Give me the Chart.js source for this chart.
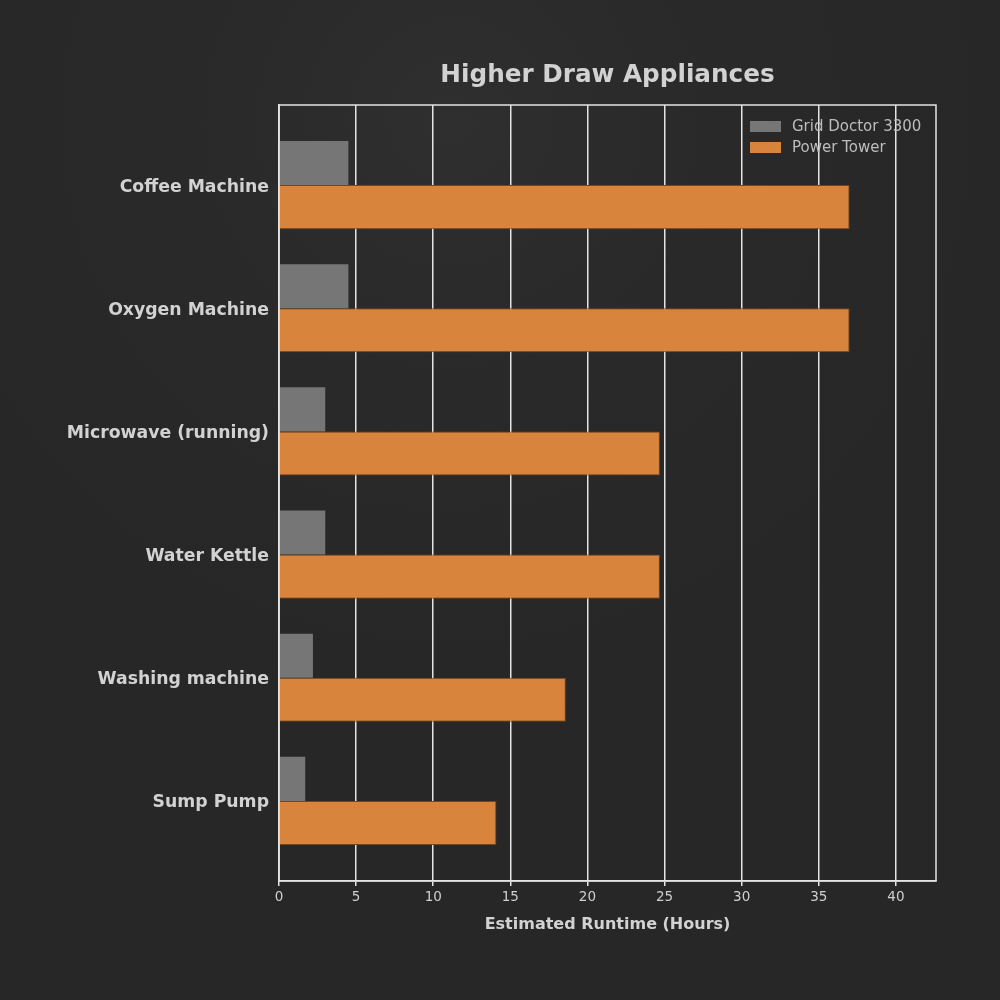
<!DOCTYPE html>
<html>
<head>
<meta charset="utf-8">
<script src="https://cdn.jsdelivr.net/npm/chart.js@4/dist/chart.umd.min.js"></script>
<style>
    html, body { margin: 0; padding: 0; background: #282828; }
    #GraficoAparelhos { display: block; }
</style>
</head>
<body>
<canvas id="GraficoAparelhos" width="1000" height="1000" style="width: 1000px; height: 1000px;"></canvas>
<script>
var categorias = ['Coffee Machine', 'Oxygen Machine', 'Microwave (running)', 'Water Kettle', 'Washing machine', 'Sump Pump'];
var gridDoctor = [4.5, 4.5, 3.0, 3.0, 2.2, 1.7];
var powerTower = [37.0, 37.0, 24.7, 24.7, 18.6, 14.1];
var ticksX = [0, 5, 10, 15, 20, 25, 30, 35, 40];

var corTexto = '#d2d2d2';
var corGrade = '#e4e4e4';

function MontarPontos(valores) {
    var pontos = [];
    for (var i = 0; i < valores.length; i++) {
        pontos.push({ x: valores[i], y: i });
    }
    return pontos;
}

// fundo escuro, titulo, moldura e legenda dentro do grafico
var pluginFundo = {
    id: 'fundo',
    beforeDraw: function (chart) {
        var ctx = chart.ctx;
        ctx.save();
        ctx.fillStyle = '#272727';
        ctx.fillRect(0, 0, chart.width, chart.height);
        var grad = ctx.createRadialGradient(450, 120, 20, 450, 120, 600);
        grad.addColorStop(0, 'rgba(60,60,60,0.35)');
        grad.addColorStop(1, 'rgba(40,40,40,0)');
        ctx.fillStyle = grad;
        ctx.fillRect(0, 0, chart.width, chart.height);
        ctx.restore();
    },
    afterDraw: function (chart) {
        var ctx = chart.ctx;
        var area = chart.chartArea;
        ctx.save();
        ctx.strokeStyle = corGrade;
        ctx.lineWidth = 1.5;
        ctx.strokeRect(area.left, area.top, area.right - area.left, area.bottom - area.top);

        ctx.fillStyle = corTexto;
        ctx.font = 'bold 24.7px "DejaVu Sans"';
        ctx.textAlign = 'center';
        ctx.textBaseline = 'middle';
        ctx.fillText('Higher Draw Appliances', (area.left + area.right) / 2, 76);

        ctx.font = '15px "DejaVu Sans"';
        ctx.textAlign = 'left';
        var sets = chart.data.datasets;
        for (var i = 0; i < sets.length; i++) {
            var y = area.top + 22 + i * 21;
            ctx.fillStyle = sets[i].backgroundColor;
            ctx.fillRect(area.right - 186, y - 6, 31, 11);
            ctx.fillStyle = '#bdbdbd';
            ctx.fillText(sets[i].label, area.right - 144, y);
        }
        ctx.restore();
    }
};

var ctx = document.getElementById('GraficoAparelhos').getContext('2d');
Chart.defaults.font.family = '"DejaVu Sans"';

var grafico = new Chart(ctx, {
    type: 'bar',
    data: {
        datasets: [
            {
                label: 'Grid Doctor 3300',
                backgroundColor: 'rgba(125,125,125,0.92)',
                borderWidth: 0,
                data: MontarPontos(gridDoctor)
            },
            {
                label: 'Power Tower',
                backgroundColor: '#d8843c',
                borderColor: '#7a4418',
                borderWidth: 1,
                data: MontarPontos(powerTower)
            }
        ]
    },
    options: {
        responsive: false,
        animation: false,
        indexAxis: 'y',
        categoryPercentage: 0.716,
        barPercentage: 1.0,
        layout: {
            padding: { top: 105, right: 64, bottom: 62, left: 0 }
        },
        plugins: {
            legend: { display: false },
            title: { display: false },
            tooltip: { enabled: false }
        },
        scales: {
            x: {
                type: 'linear',
                min: 0,
                max: 42.6,
                afterBuildTicks: function (scale) {
                    scale.ticks = ticksX.map(function (v) { return { value: v }; });
                },
                afterFit: function (scale) {
                    scale.height = 1000 - 62 - 881;
                },
                grid: {
                    color: corGrade,
                    lineWidth: 1.5,
                    drawTicks: true,
                    tickLength: 5
                },
                border: { display: true, color: corGrade, width: 1.5 },
                ticks: {
                    color: '#cfcfcf',
                    font: { size: 13.5 },
                    padding: 3
                },
                title: {
                    display: true,
                    text: 'Estimated Runtime (Hours)',
                    color: corTexto,
                    font: { size: 16, weight: 'bold' },
                    padding: { top: 4, bottom: 4 }
                }
            },
            y: {
                type: 'linear',
                reverse: true,
                offset: false,
                min: -0.65,
                max: 5.65,
                afterBuildTicks: function (scale) {
                    scale.ticks = categorias.map(function (c, i) { return { value: i }; });
                },
                afterFit: function (scale) {
                    scale.width = 279;
                },
                grid: { display: false, drawTicks: false, offset: false },
                border: { display: true, color: corGrade, width: 1.5 },
                ticks: {
                    color: corTexto,
                    font: { size: 17.3, weight: 'bold' },
                    padding: 10,
                    labelOffset: 2,
                    callback: function (valor) {
                        return categorias[valor];
                    }
                }
            }
        }
    },
    plugins: [pluginFundo]
});
</script>
</body>
</html>
